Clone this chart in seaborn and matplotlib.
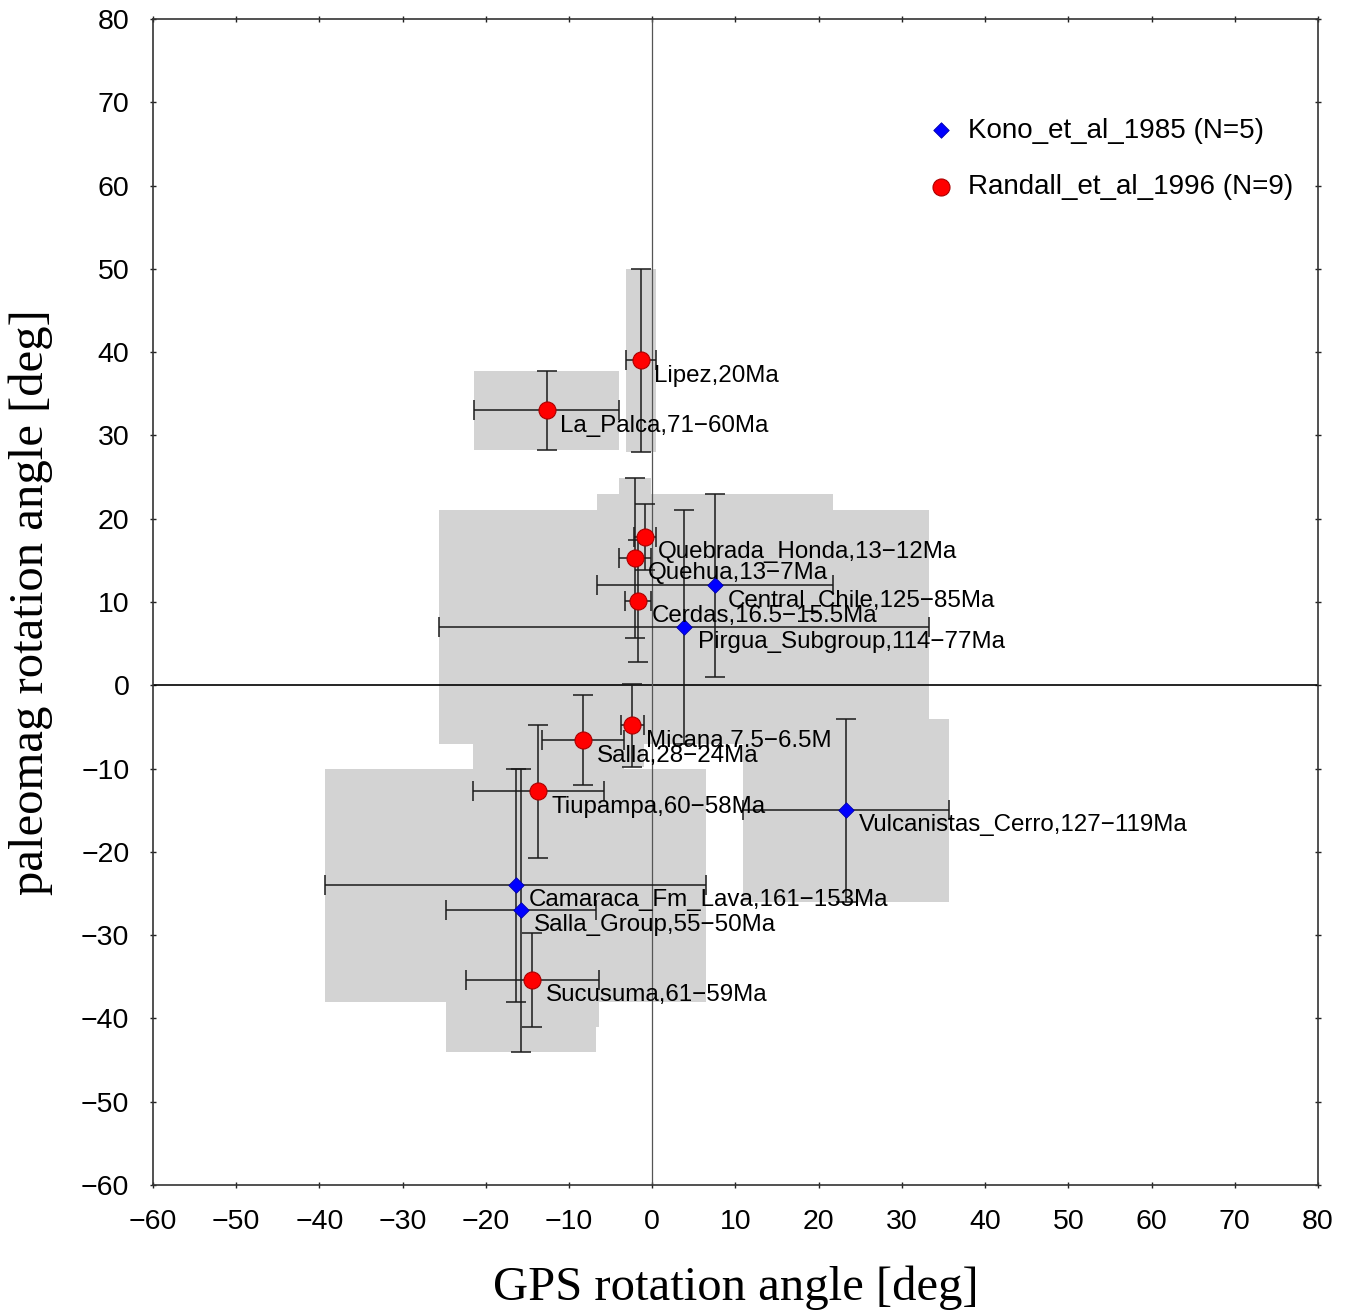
import matplotlib
matplotlib.use("Agg")
import matplotlib.pyplot as plt
from matplotlib.patches import Rectangle
import seaborn as sns
import pandas as pd

# ---- data ----
names = ["Lipez,20Ma", "La_Palca,71\u221260Ma", "Quebrada_Honda,13\u221212Ma", "Quehua,13\u22127Ma",
         "Cerdas,16.5\u221215.5Ma", "Micana,7.5\u22126.5M", "Salla,28\u221224Ma", "Tiupampa,60\u221258Ma",
         "Sucusuma,61\u221259Ma",
         "Central_Chile,125\u221285Ma", "Pirgua_Subgroup,114\u221277Ma", "Vulcanistas_Cerro,127\u2212119Ma",
         "Camaraca_Fm_Lava,161\u2212153Ma", "Salla_Group,55\u221250Ma"]
gps = [-1.4, -12.7, -0.9, -2.1, -1.7, -2.4, -8.3, -13.7, -14.4,
       7.5, 3.85, 23.3, -16.4, -15.8]
gps_err = [1.8, 8.7, 1.3, 1.9, 1.6, 1.4, 4.9, 7.9, 8.0,
           14.2, 29.45, 12.4, 22.9, 9.0]
pmag = [39.0, 33.0, 17.8, 15.3, 10.1, -4.8, -6.6, -12.75, -35.4,
        12.0, 7.0, -15.0, -24.0, -27.0]
pmag_err = [11.0, 4.7, 4.0, 9.6, 7.3, 5.0, 5.4, 8.0, 5.6,
            11.0, 14.0, 11.0, 14.0, 17.0]
source = ["Randall_et_al_1996 (N=9)"] * 9 + ["Kono_et_al_1985 (N=5)"] * 5
ticks = list(range(-60, 81, 10))

df = pd.DataFrame({"name": names, "gps": gps, "gps_err": gps_err,
                   "pmag": pmag, "pmag_err": pmag_err, "source": source})

sns.set_style("ticks")
plt.rcParams["font.family"] = ["Liberation Sans", "DejaVu Sans"]
plt.rcParams["text.color"] = "black"
plt.rcParams["axes.labelcolor"] = "black"

fig = plt.figure(figsize=(13.5, 13.1), dpi=100)
ax = fig.add_axes([153 / 1350, 1 - 1185 / 1310, 1165 / 1350, 1166 / 1310])

# grey error boxes
for _, r in df.iterrows():
    ax.add_patch(Rectangle((r.gps - r.gps_err, r.pmag - r.pmag_err),
                           2 * r.gps_err, 2 * r.pmag_err,
                           facecolor="#d3d3d3", edgecolor="none", zorder=1))

ax.axhline(0, color="black", lw=1.2, zorder=2)
ax.axvline(0, color="#555555", lw=0.9, zorder=2)

ax.errorbar(df.gps, df.pmag, xerr=df.gps_err, yerr=df.pmag_err, fmt="none",
            ecolor="#1a1a1a", elinewidth=1.1, capsize=7, capthick=1.1, zorder=3)

kono = df[df.source.str.startswith("Kono")]
rand = df[df.source.str.startswith("Randall")]
sns.scatterplot(data=kono, x="gps", y="pmag", marker="D", s=62, color="#0000ff",
                edgecolor="#0000aa", linewidth=0.6, label=kono.source.iloc[0], ax=ax, zorder=4)
sns.scatterplot(data=rand, x="gps", y="pmag", marker="o", s=150, color="#ff0000",
                edgecolor="#aa0000", linewidth=0.8, label=rand.source.iloc[0], ax=ax, zorder=4)

for _, r in df.iterrows():
    ax.annotate(r["name"], (r.gps, r.pmag), xytext=(9.5, -11), textcoords="offset points",
                ha="left", va="center", fontsize=17.4, color="black", zorder=5)

ax.set_xlim(-60, 80)
ax.set_ylim(-60, 80)
ax.set_xticks(ticks)
ax.set_yticks(ticks)
ax.tick_params(direction="inout", length=4, width=1, labelsize=20.5, pad=15,
               top=True, right=True, colors="#222222", labelcolor="black")
for s in ax.spines.values():
    s.set_color("#333333")
    s.set_linewidth(1.2)

ax.set_xlabel("GPS rotation angle [deg]", family="Liberation Serif", fontsize=35,
              labelpad=22, color="black")
ax.set_ylabel("paleomag rotation angle [deg]", family="Liberation Serif", fontsize=35,
              labelpad=20, color="black")

leg = ax.legend(loc="upper right", bbox_to_anchor=(0.988, 0.925), frameon=False, fontsize=20,
                labelspacing=1.1, handlelength=1.4, handletextpad=0.26, borderaxespad=0)

fig.savefig("out.png", dpi=100)
